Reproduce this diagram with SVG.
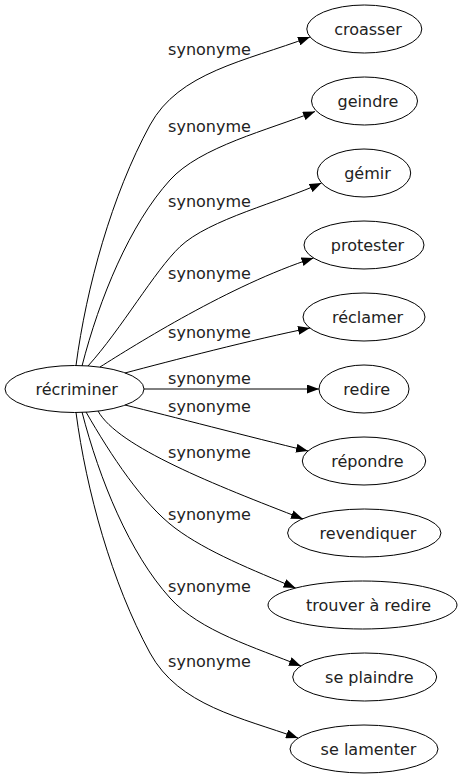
<svg xmlns="http://www.w3.org/2000/svg" width="466" height="779" viewBox="0 0 466 779">
<style>
  .node ellipse { fill: none; stroke: #000; stroke-width: 1; }
  .node text { font-family: "DejaVu Sans", sans-serif; font-size: 16px; fill: #222; text-anchor: middle; }
  .edges path { fill: none; stroke: #000; stroke-width: 1; marker-end: url(#arr); }
  .edges text { font-family: "DejaVu Sans", sans-serif; font-size: 16px; fill: #222; text-anchor: middle; }
</style>
<defs>
  <marker id="arr" markerWidth="12" markerHeight="9" refX="12" refY="4.5" orient="auto" markerUnits="userSpaceOnUse">
    <path d="M0,0 L12,4.5 L0,9 z" fill="#000"/>
  </marker>
</defs>
<rect width="466" height="779" fill="#fff"/>
<g id="edges" class="edges">
  <path d="M76,365.5 C86.4,287 111.6,195.6 150,125 C178.8,72.2 244.5,61.4 310,37"/>
  <text x="209.5" y="55">synonyme</text>
  <path d="M82,366 C99.5,298 129.8,224.4 170,180 C200,146.7 268.5,130 315,111.5"/>
  <text x="209.5" y="131.7">synonyme</text>
  <path d="M88,366 C121.5,329 154.6,270.8 180,246.7 C209,219.2 280.5,201.9 321.5,183"/>
  <text x="209.5" y="207">synonyme</text>
  <path d="M100,367 C135,345 230,285 313.5,258"/>
  <text x="209.5" y="278.5">synonyme</text>
  <path d="M125,373 C170,361 255,339 310,328"/>
  <text x="209.5" y="338.3">synonyme</text>
  <path d="M144,389 L319,389"/>
  <text x="209.5" y="384.3">synonyme</text>
  <path d="M125,405 C170,416 250,437 308,451"/>
  <text x="209.5" y="411.7">synonyme</text>
  <path d="M98,411 C118,447 215,485 303,519"/>
  <text x="209.5" y="458.3">synonyme</text>
  <path d="M86,412 C111,455.5 143,504 175,528 C207,552 253.6,570.4 295.6,588"/>
  <text x="209.5" y="519.5">synonyme</text>
  <path d="M82,412 C99.5,480 129.8,553.6 170,598 C200,631.3 255.5,647.5 301,666"/>
  <text x="209.5" y="592">synonyme</text>
  <path d="M76,412.5 C86.4,491 111.6,582.4 150,653 C178.8,705.8 241.6,717.6 298,738"/>
  <text x="209.5" y="666.7">synonyme</text>
</g>
<g id="n-recriminer" class="node"><ellipse cx="74.5" cy="389" rx="69.5" ry="23.5"/><text x="76.7" y="394.5">récriminer</text></g>
<g id="n-croasser" class="node"><ellipse cx="364.3" cy="29" rx="57.5" ry="24"/><text x="368" y="34.5">croasser</text></g>
<g id="n-geindre" class="node"><ellipse cx="364.5" cy="101" rx="53" ry="24"/><text x="368" y="106.5">geindre</text></g>
<g id="n-gemir" class="node"><ellipse cx="364" cy="173" rx="46.7" ry="24"/><text x="367.5" y="178.5">gémir</text></g>
<g id="n-protester" class="node"><ellipse cx="364" cy="245" rx="60" ry="24"/><text x="367.5" y="250.5">protester</text></g>
<g id="n-reclamer" class="node"><ellipse cx="364" cy="317" rx="61" ry="24"/><text x="367.5" y="322.5">réclamer</text></g>
<g id="n-redire" class="node"><ellipse cx="364" cy="389" rx="45" ry="24"/><text x="366.7" y="394.5">redire</text></g>
<g id="n-repondre" class="node"><ellipse cx="364" cy="461" rx="61.7" ry="24"/><text x="367.5" y="466.5">répondre</text></g>
<g id="n-revendiquer" class="node"><ellipse cx="364.3" cy="533" rx="76.7" ry="24"/><text x="368" y="538.5">revendiquer</text></g>
<g id="n-trouver" class="node"><ellipse cx="362.5" cy="605" rx="94.5" ry="24"/><text x="368.5" y="610.5">trouver à redire</text></g>
<g id="n-seplaindre" class="node"><ellipse cx="364.7" cy="677" rx="72" ry="24"/><text x="369.3" y="682.5">se plaindre</text></g>
<g id="n-selamenter" class="node"><ellipse cx="364" cy="749" rx="74" ry="24"/><text x="368.5" y="754.5">se lamenter</text></g>
</svg>
